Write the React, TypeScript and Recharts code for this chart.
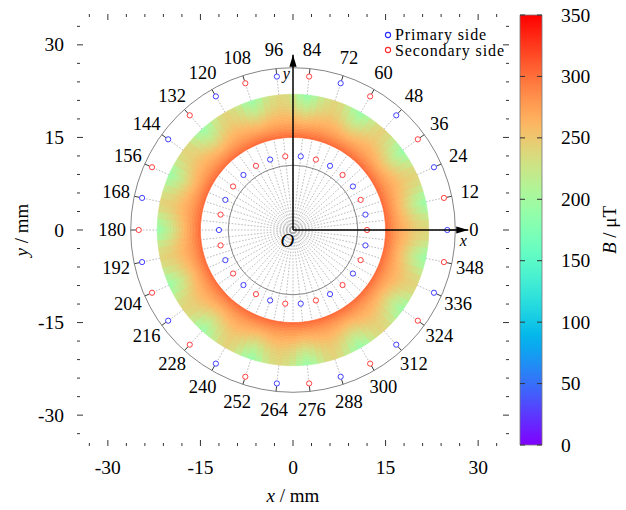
import React from "react";
import { ScatterChart, Scatter, XAxis, YAxis, ReferenceLine, ReferenceDot, BarChart, Bar } from "recharts";

const W = 626;
const H = 510;
const M = { top: 13, right: 116, bottom: 63, left: 76 };
const PLOT_W = W - M.left - M.right - 2;
const K = PLOT_W / 70; // px per mm
const FONT = '"Liberation Serif", "Times New Roman", serif';

// frame ticks, mm
const frameTicks = [-33, -30, -27, -24, -21, -18, -15, -12, -9, -6, -3, 0, 3, 6, 9, 12, 15, 18, 21, 24, 27, 30, 33];
const majorTicks = [-30, -15, 0, 15, 30];

// coil angles, degrees
const angleLabels = [0, 12, 24, 36, 48, 60, 72, 84, 96, 108, 120, 132, 144, 156, 168, 180, 192, 204, 216, 228, 240, 252, 264, 276, 288, 300, 312, 324, 336, 348];
const outerPrimary = [0, 24, 48, 72, 96, 120, 144, 168, 192, 216, 240, 264, 288, 312, 336];
const outerSecondary = [12, 36, 60, 84, 108, 132, 156, 180, 204, 228, 252, 276, 300, 324, 348];
const innerPrimary = [12, 36, 60, 84, 108, 132, 156, 180, 204, 228, 252, 276, 300, 324, 348];
const innerSecondary = [0, 24, 48, 72, 96, 120, 144, 168, 192, 216, 240, 264, 288, 312, 336];

// radii, mm
const R_OUTER_MARK = 25;
const R_INNER_MARK = 12;
const R_OUTER_CIRCLE = 26.3;
const R_INNER_CIRCLE = 10.5;
const R_LABEL = 29.3;
const RING_IN = 15;
const RING_STEP = 0.25;
const ARROW_LEN = 28.4;

// B (uT) across the ring, 15 -> 22 mm
const radialB = [303, 298, 294, 290, 286, 282, 278, 275, 272, 268, 265, 262, 259, 256, 253, 250, 247, 244, 241, 238, 236, 233, 231, 229, 227, 225, 223, 221];
// change of B at the outer edge, every 3 deg
const angularDelta = [
  20, 14, 1, -17, -27, -17, 2, 15, 21, 15, 0, -18, -28, -16, 1, 14,
  22, 15, 1, -17, -29, -18, 0, 15, 20, 13, 2, -16, -30, -19, 1, 16,
  19, 13, 3, -15, -26, -16, 3, 14, 21, 15, 1, -18, -28, -17, 0, 15,
  20, 14, 2, -17, -27, -16, 1, 13, 22, 16, 0, -18, -30, -18, 2, 15,
  21, 14, 1, -16, -28, -17, 1, 14, 20, 15, 2, -17, -27, -16, 0, 15,
  22, 15, 1, -18, -29, -17, 1, 14, 19, 13, 2, -16, -27, -17, 1, 15,
  21, 14, 0, -17, -28, -18, 2, 14, 20, 14, 1, -16, -27, -17, 1, 15,
  21, 15, 1, -17, -28, -17, 2, 15,
];

const cbTicks = [0, 50, 100, 150, 200, 250, 300, 350];
const cbRange = [{ name: "B", hi: 350 }];
const B_MAX = 350;

const rainbow = (v: number) => {
  const t = Math.max(0, Math.min(1, v / B_MAX));
  const r = Math.min(1, Math.abs(2 * t - 0.5));
  const g = Math.sin(Math.PI * t);
  const b = Math.cos((Math.PI * t) / 2);
  return `rgb(${Math.round(r * 255)},${Math.round(g * 255)},${Math.round(b * 255)})`;
};

const pol = (r: number, deg: number) => ({
  x: r * Math.cos((deg * Math.PI) / 180),
  y: r * Math.sin((deg * Math.PI) / 180),
});

const cells = radialB.flatMap((b, i) => {
  const r0 = RING_IN + i * RING_STEP;
  const r1 = r0 + RING_STEP;
  const rc = (r0 + r1) / 2;
  const f = (rc - RING_IN) / (RING_STEP * radialB.length);
  const w = f * f;
  const da = 360 / angularDelta.length;
  return angularDelta.map((d, j) => {
    const a = j * da;
    return { ...pol(rc, a), r0, r1, a0: a - da / 2, a1: a + da / 2, b: b + d * w };
  });
});

const marks = (angles: number[], r: number) => angles.map((a) => pol(r, a));
const labels = angleLabels.map((a) => ({ ...pol(R_LABEL, a), t: String(a) }));

const CellShape = (p: any) => {
  const { cx, cy, payload: c } = p;
  const px = (r: number, a: number) => {
    const q = pol(r, a);
    return `${(cx + (q.x - c.x) * K).toFixed(2)},${(cy - (q.y - c.y) * K).toFixed(2)}`;
  };
  const d = `M${px(c.r0, c.a0)}L${px(c.r1, c.a0)}L${px(c.r1, c.a1)}L${px(c.r0, c.a1)}Z`;
  const col = rainbow(c.b);
  return <path d={d} fill={col} stroke={col} strokeWidth={0.6} />;
};

const ringMark = (color: string) => (p: any) => (
  <circle cx={p.cx} cy={p.cy} r={2.6} fill="#fff" stroke={color} strokeWidth={0.9} />
);

const TextShape = (p: any) => (
  <text
    x={p.cx}
    y={p.cy + 6}
    textAnchor="middle"
    fontFamily={FONT}
    fontSize={p.payload.size || 18.5}
    fontStyle={p.payload.italic ? "italic" : "normal"}
    fill="#000"
  >
    {p.payload.t}
  </text>
);

const ArrowHead = (p: any) => {
  if (p.payload.dir === undefined) return <g />;
  const t = (p.payload.dir * Math.PI) / 180;
  const ux = Math.cos(t), uy = -Math.sin(t);
  const L = 12, hw = 3.6;
  const bx = p.cx - ux * L, by = p.cy - uy * L;
  const pts = `${p.cx},${p.cy} ${bx - uy * hw},${by + ux * hw} ${bx + uy * hw},${by - ux * hw}`;
  return <polygon points={pts} fill="#000" />;
};

const xArrow = [{ x: 0, y: 0 }, { x: ARROW_LEN, y: 0, dir: 0 }];
const yArrow = [{ x: 0, y: 0 }, { x: 0, y: ARROW_LEN, dir: 90 }];
const notes = [
  { x: 27.6, y: -1.7, t: "x", italic: true, size: 16 },
  { x: -1.1, y: 25.5, t: "y", italic: true, size: 16 },
  { x: -0.9, y: -1.8, t: "O", italic: true, size: 19 },
];

const TICK = "#333";
const TICK_FONT = 19.5;
const BottomTick = (p: any) => {
  const v = p.payload.value;
  const major = majorTicks.includes(v);
  return (
    <g>
      <line x1={p.x} y1={p.y} x2={p.x} y2={p.y - (major ? 6 : 3)} stroke={TICK} />
      {major && (
        <text x={p.x} y={p.y + 28} textAnchor="middle" fontFamily={FONT} fontSize={TICK_FONT} fill="#000">
          {v}
        </text>
      )}
    </g>
  );
};
const TopTick = (p: any) => {
  const major = majorTicks.includes(p.payload.value);
  return <line x1={p.x} y1={p.y} x2={p.x} y2={p.y + (major ? 6 : 3)} stroke={TICK} />;
};
const LeftTick = (p: any) => {
  const v = p.payload.value;
  const major = majorTicks.includes(v);
  return (
    <g>
      <line x1={p.x} y1={p.y} x2={p.x + (major ? 6 : 3)} y2={p.y} stroke={TICK} />
      {major && (
        <text x={p.x - 13} y={p.y + 6.5} textAnchor="end" fontFamily={FONT} fontSize={TICK_FONT} fill="#000">
          {v}
        </text>
      )}
    </g>
  );
};
const RightTick = (p: any) => {
  const major = majorTicks.includes(p.payload.value);
  return <line x1={p.x} y1={p.y} x2={p.x - (major ? 6 : 3)} y2={p.y} stroke={TICK} />;
};

const CbTick = (p: any) => (
  <g>
    <line x1={p.x - 22} y1={p.y} x2={p.x - 17} y2={p.y} stroke="#333" />
    <line x1={p.x - 5} y1={p.y} x2={p.x} y2={p.y} stroke="#333" />
    <text x={p.x + 19} y={p.y + 6.5} textAnchor="start" fontFamily={FONT} fontSize={TICK_FONT} fill="#000">
      {p.payload.value}
    </text>
  </g>
);

const XTitle = () => (
  <text x={M.left + 1 + PLOT_W / 2} y={H - 8} textAnchor="middle" fontFamily={FONT} fontSize={19} fill="#000">
    <tspan fontStyle="italic">x</tspan> / mm
  </text>
);
const YTitle = () => (
  <text x={0} y={0} transform={`translate(28, ${M.top + 1 + PLOT_W / 2}) rotate(-90)`} textAnchor="middle" fontFamily={FONT} fontSize={19} fill="#000">
    <tspan fontStyle="italic">y</tspan> / mm
  </text>
);
const BTitle = () => (
  <text x={0} y={0} transform="translate(616, 230) rotate(-90)" textAnchor="middle" fontFamily={FONT} fontSize={19} fill="#000">
    <tspan fontStyle="italic">B</tspan> / μT
  </text>
);

const dotted = { stroke: "#aaa", strokeWidth: 0.8, strokeDasharray: "1.6 1.6" };

export default function App() {
  const spokes: { a: number; r0: number; r1: number }[] = [];
  angleLabels.forEach((a) => {
    spokes.push({ a, r0: 0.4, r1: 11.55 });
    spokes.push({ a, r0: 12.45, r1: 15 });
    spokes.push({ a, r0: 22, r1: 24.55 });
    spokes.push({ a: a + 6, r0: 0.4, r1: 15 });
  });

  return (
    <div style={{ position: "absolute", left: 0, top: 0, width: W, height: H, background: "#fff" }}>
      <div style={{ position: "absolute", left: 0, top: 0 }}>
        <ScatterChart width={W} height={H} margin={M}>
          <XAxis xAxisId={0} type="number" dataKey="x" domain={[-35, 35]} ticks={frameTicks} interval={0} height={1}
            tickLine={false} axisLine={false} tickSize={0} tickMargin={0} tick={<BottomTick />} allowDataOverflow label={XTitle} />
          <XAxis xAxisId="top" orientation="top" type="number" dataKey="x" domain={[-35, 35]} ticks={frameTicks} interval={0} height={1}
            tickLine={false} axisLine={false} tickSize={0} tickMargin={0} tick={<TopTick />} allowDataOverflow />
          <YAxis yAxisId={0} type="number" dataKey="y" domain={[-35, 35]} ticks={frameTicks} interval={0} width={1}
            tickLine={false} axisLine={false} tickSize={0} tickMargin={0} tick={<LeftTick />} allowDataOverflow label={YTitle} />
          <YAxis yAxisId="right" orientation="right" type="number" dataKey="y" domain={[-35, 35]} ticks={frameTicks} interval={0} width={1}
            tickLine={false} axisLine={false} tickSize={0} tickMargin={0} tick={<RightTick />} allowDataOverflow />

          {spokes.map((s, i) => (
            <ReferenceLine key={"s" + i} segment={[pol(s.r0, s.a), pol(s.r1, s.a)]} {...dotted} />
          ))}
          <ReferenceDot x={0} y={0} r={R_OUTER_CIRCLE * K} fill="none" stroke="#777" strokeWidth={0.9} />
          <ReferenceDot x={0} y={0} r={R_INNER_CIRCLE * K} fill="none" stroke="#777" strokeWidth={0.9} />
          {angleLabels.map((a) => (
            <ReferenceLine key={"t" + a} segment={[pol(R_OUTER_MARK + 0.45, a), pol(R_OUTER_CIRCLE, a)]} stroke="#222" strokeWidth={0.9} />
          ))}

          <Scatter xAxisId="top" yAxisId="right" data={[]} isAnimationActive={false} />
          <Scatter data={cells} shape={CellShape} isAnimationActive={false} />
          <Scatter name="Primary side" data={marks(outerPrimary, R_OUTER_MARK)} shape={ringMark("#2a2aff")} isAnimationActive={false} />
          <Scatter name="Secondary side" data={marks(outerSecondary, R_OUTER_MARK)} shape={ringMark("#ff2a2a")} isAnimationActive={false} />
          <Scatter data={marks(innerPrimary, R_INNER_MARK)} shape={ringMark("#2a2aff")} isAnimationActive={false} />
          <Scatter data={marks(innerSecondary, R_INNER_MARK)} shape={ringMark("#ff2a2a")} isAnimationActive={false} />
          <Scatter data={xArrow} line={{ stroke: "#000", strokeWidth: 1.5 }} shape={ArrowHead} isAnimationActive={false} />
          <Scatter data={yArrow} line={{ stroke: "#000", strokeWidth: 1.5 }} shape={ArrowHead} isAnimationActive={false} />
          <Scatter data={labels} shape={TextShape} isAnimationActive={false} />
          <Scatter data={notes} shape={TextShape} isAnimationActive={false} />
        </ScatterChart>
      </div>

      <div style={{ position: "absolute", left: 500, top: 0 }}>
        <BarChart width={126} height={H} data={cbRange} margin={{ top: 15, right: 83, bottom: 65, left: 20 }} barCategoryGap={0}>
          <defs>
            <linearGradient id="cbGrad" x1="0" y1="1" x2="0" y2="0">
              {Array.from({ length: 36 }, (_, i) => (
                <stop key={i} offset={i / 35} stopColor={rainbow((i / 35) * B_MAX)} />
              ))}
            </linearGradient>
          </defs>
          <XAxis dataKey="name" hide />
          <YAxis orientation="right" type="number" domain={[0, 350]} ticks={cbTicks} interval={0} width={1}
            tickLine={false} axisLine={false} tickSize={0} tickMargin={0} tick={<CbTick />} />
          <Bar dataKey="hi" fill="url(#cbGrad)" stroke="#777" strokeWidth={0.8} isAnimationActive={false} />
        </BarChart>
      </div>

      <svg width={W} height={H} style={{ position: "absolute", left: 0, top: 0, pointerEvents: "none" }}>
        <BTitle />
        <circle cx={388} cy={35} r={2.6} fill="#fff" stroke="#2a2aff" strokeWidth={1.1} />
        <text x={395} y={39.5} fontFamily={FONT} fontSize={16} letterSpacing={0.9} fill="#000">Primary side</text>
        <circle cx={388} cy={50} r={2.6} fill="#fff" stroke="#ff2a2a" strokeWidth={1.1} />
        <text x={395} y={55.5} fontFamily={FONT} fontSize={16} letterSpacing={0.9} fill="#000">Secondary side</text>
      </svg>
    </div>
  );
}
